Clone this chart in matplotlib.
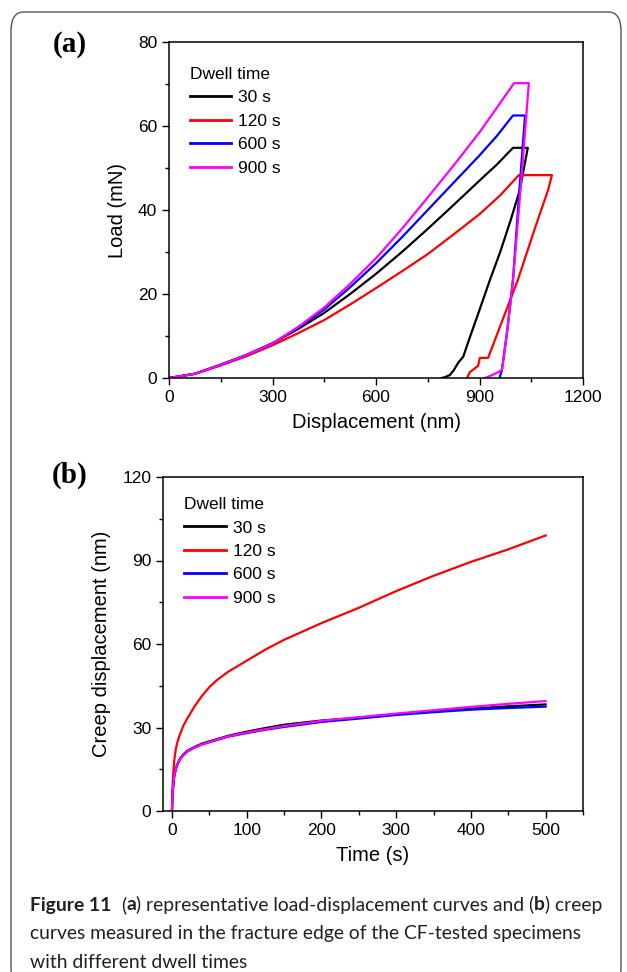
import matplotlib
matplotlib.use("Agg")
import matplotlib.pyplot as plt
from matplotlib.patches import FancyBboxPatch
from matplotlib.ticker import MultipleLocator

# ---- data ----
dwell_labels = ["30 s", "120 s", "600 s", "900 s"]
colors = ["black", "#ff0000", "#0000ff", "#ff00ff"]

# (a) load-displacement: loading, hold, unloading
disp_30 = [0, 75, 150, 225, 300, 375, 450, 525, 600, 675, 750, 825, 900, 950, 997,
           1040, 1030, 1017, 990, 960, 930, 900, 870, 853, 838, 825, 814, 800, 791]
load_30 = [0, 1.0, 3.2, 5.5, 8.3, 11.7, 15.5, 20.0, 24.8, 30.0, 35.5, 41.2, 47.0, 50.8, 54.8,
           54.8, 50.5, 44.8, 37.5, 30.0, 23.3, 16.2, 9.2, 5.1, 3.6, 1.8, 0.7, 0.2, 0]

disp_120 = [0, 75, 150, 225, 300, 375, 450, 525, 600, 675, 750, 825, 900, 960, 1014,
            1110, 1099, 1060, 1011, 970, 925, 901, 896, 872, 864]
load_120 = [0, 1.0, 3.0, 5.2, 7.8, 10.7, 13.8, 17.5, 21.4, 25.4, 29.5, 34.2, 39.0, 43.5, 48.3,
            48.3, 44.8, 35.5, 23.3, 14.5, 4.8, 4.8, 2.9, 1.4, 0]

disp_600 = [0, 75, 150, 225, 300, 375, 450, 525, 600, 675, 750, 825, 900, 950, 997,
            1032, 1015, 997, 980, 965, 958]
load_600 = [0, 1.0, 3.1, 5.5, 8.2, 12.0, 16.3, 21.6, 27.3, 33.5, 40.0, 46.5, 53.0, 57.6, 62.5,
            62.5, 44.0, 23.3, 11.0, 1.9, 0]

disp_900 = [0, 75, 150, 225, 300, 375, 450, 525, 600, 675, 750, 825, 900, 950, 1000,
            1043, 1020, 997, 980, 965, 940, 916]
load_900 = [0, 1.0, 3.1, 5.5, 8.2, 12.2, 16.8, 22.4, 28.5, 35.5, 43.0, 50.6, 58.5, 64.3, 70.2,
            70.2, 46.0, 23.3, 11.0, 1.9, 0.8, 0]

# (b) creep displacement vs hold time
t_creep = [0, 0.5, 1, 2, 3, 5, 7, 10, 15, 20, 30, 40, 50, 60, 75, 100, 125, 150,
           200, 250, 300, 350, 400, 450, 500]
creep_30 = [0, 5, 7, 10, 12.5, 15, 16.5, 18.5, 20.3, 21.5, 23, 24.2, 25, 25.8, 27, 28.5, 29.8, 31,
            32.5, 33.5, 34.8, 35.8, 36.8, 37.6, 38.3]
creep_120 = [0, 7, 10, 14.5, 18, 22, 24.5, 27, 30.5, 33, 37.5, 41.3, 44.5, 47, 50, 54, 58, 61.5,
             67.5, 73, 79, 84.5, 89.5, 94, 99]
creep_600 = [0, 5, 7, 10, 12.5, 15, 16.4, 18.3, 20, 21.3, 22.8, 23.9, 24.7, 25.5, 26.7, 28, 29.2, 30.2,
             32, 33.2, 34.5, 35.5, 36.4, 37, 37.5]
creep_900 = [0, 5, 7, 10, 12.5, 15, 16.4, 18.3, 20, 21.3, 22.8, 23.9, 24.8, 25.6, 26.8, 28.2, 29.4, 30.5,
             32.4, 33.7, 35, 36.2, 37.4, 38.5, 39.5]

load_curves = [(disp_30, load_30), (disp_120, load_120), (disp_600, load_600), (disp_900, load_900)]
creep_curves = [creep_30, creep_120, creep_600, creep_900]

plt.rcParams["font.family"] = ["Liberation Sans", "DejaVu Sans"]

W, H = 627, 972
fig = plt.figure(figsize=(W / 100, H / 100), dpi=100)


def px_axes(left, top, right, bottom):
    return fig.add_axes([left / W, 1 - bottom / H, (right - left) / W, (bottom - top) / H])


def style_axes(ax):
    for s in ax.spines.values():
        s.set_linewidth(1.1)
    ax.tick_params(which="both", direction="out", top=False, right=False, labelsize=12.5, width=1.0)
    ax.tick_params(which="major", length=5)
    ax.tick_params(which="minor", length=3)


def add_legend(ax, top):
    leg = ax.legend(title="Dwell time", loc="upper left", bbox_to_anchor=(0.05, top),
                    frameon=False, fontsize=12.5, title_fontsize=12.5, alignment="left",
                    handlelength=2.4, handletextpad=0.4, labelspacing=0.48, borderaxespad=0,
                    borderpad=0)
    for line in leg.get_lines():
        line.set_linewidth(2)


# ---- panel (a) ----
ax1 = px_axes(169, 42, 583, 378)
for (d, l), c, lab in zip(load_curves, colors, dwell_labels):
    ax1.plot(d, l, color=c, lw=1.6, label=lab)
ax1.set_xlim(0, 1200)
ax1.set_ylim(0, 80)
ax1.xaxis.set_major_locator(MultipleLocator(300))
ax1.xaxis.set_minor_locator(MultipleLocator(150))
ax1.yaxis.set_major_locator(MultipleLocator(20))
ax1.yaxis.set_minor_locator(MultipleLocator(10))
style_axes(ax1)
ax1.set_xlabel("Displacement (nm)", fontsize=14.5, labelpad=6)
ax1.set_ylabel("Load (mN)", fontsize=14.5, labelpad=8)
add_legend(ax1, 0.926)

# ---- panel (b) ----
ax2 = px_axes(163, 477, 583, 811)
for y, c, lab in zip(creep_curves, colors, dwell_labels):
    ax2.plot(t_creep, y, color=c, lw=1.6, label=lab)
ax2.set_xlim(-12, 550)
ax2.set_ylim(0, 120)
ax2.xaxis.set_major_locator(MultipleLocator(100))
ax2.xaxis.set_minor_locator(MultipleLocator(50))
ax2.yaxis.set_major_locator(MultipleLocator(30))
ax2.yaxis.set_minor_locator(MultipleLocator(15))
style_axes(ax2)
ax2.set_xlabel("Time (s)", fontsize=14.5, labelpad=6)
ax2.set_ylabel("Creep displacement (nm)", fontsize=14.5, labelpad=8)
add_legend(ax2, 0.94)

# panel letters
fig.text(70 / W, 1 - 45 / H, "(a)", fontsize=21, weight="bold", family="Liberation Serif",
         ha="center", va="center")
fig.text(70 / W, 1 - 475 / H, "(b)", fontsize=21, weight="bold", family="Liberation Serif",
         ha="center", va="center")

# outer rounded frame (bottom edge runs off the image)
frame = FancyBboxPatch((11 / W, -15 / H), 610 / W, 975 / H, boxstyle="round,pad=0,rounding_size=0.02",
                       transform=fig.transFigure, fill=False, edgecolor="#555555", lw=1.0)
fig.patches.append(frame)

# caption with mixed bold runs
cap_font = "Lato"
cap_size = 13.9
cap_color = "#231f20"
renderer = fig.canvas.get_renderer()


def text_width(s, weight):
    t = fig.text(0, 0, s, fontsize=cap_size, family=cap_font, weight=weight)
    w = t.get_window_extent(renderer).width
    t.remove()
    return w


space = text_width("a a", "normal") - text_width("aa", "normal")


def draw_runs(runs, x_px, y_px):
    x = x_px
    for s, weight in runs:
        if s == " ":
            x += space
            continue
        t = fig.text(x / W, 1 - y_px / H, s, fontsize=cap_size, family=cap_font, weight=weight,
                     color=cap_color, va="center", ha="left")
        x += t.get_window_extent(renderer).width


caption_lines = [
    [("Figure 11", "bold"), (" ", None), (" ", None), ("(", "normal"), ("a", "bold"),
     (") representative load-displacement curves and (", "normal"), ("b", "bold"), (") creep", "normal")],
    [("curves measured in the fracture edge of the CF-tested specimens", "normal")],
    [("with different dwell times", "normal")],
]
for i, runs in enumerate(caption_lines):
    draw_runs(runs, 30, 905 + i * 28.5)

fig.savefig("out.png", dpi=100)
